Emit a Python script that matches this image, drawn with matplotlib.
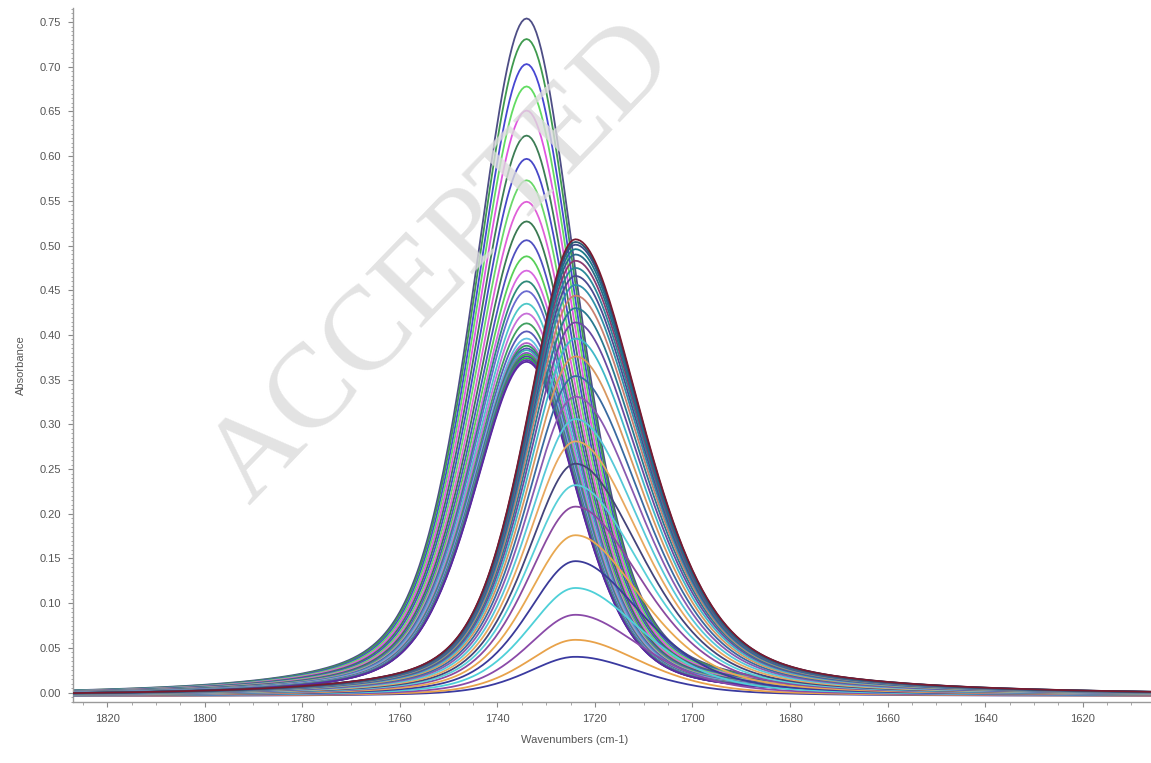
import numpy as np
import matplotlib
matplotlib.use("Agg")
import matplotlib.pyplot as plt
from matplotlib.ticker import MultipleLocator

# ---- data ----
# family A: band near 1734 cm-1 (peak heights, top to bottom)
center_a = 1734.0
heights_a = [0.758, 0.735, 0.707, 0.682, 0.655, 0.627, 0.601, 0.577, 0.553, 0.531,
             0.510, 0.492, 0.476, 0.464, 0.453, 0.439, 0.428, 0.417, 0.408, 0.400,
             0.395, 0.392, 0.389, 0.387, 0.384, 0.382, 0.380, 0.378, 0.376, 0.374]
colors_a = ["#4e4e86", "#3f9a4f", "#4747d2", "#62dc62", "#e056e0", "#3d7d55",
            "#4848c8", "#6ad86a", "#e060d8", "#3b7a52", "#5050c0", "#58d058",
            "#d868e0", "#2f8a7a", "#6a6ad0", "#4fc8c8", "#c870d8", "#40a060",
            "#5a5ab8", "#60c0e0", "#b060c8", "#2a9a5a", "#5050b0", "#40b0b0",
            "#9050c0", "#30c040", "#5a3aa8", "#28b848", "#6a30b0", "#5a2aa0"]

# family B: band near 1724 cm-1 (peak heights, bottom to top)
center_b = 1724.0
heights_b = [0.044, 0.063, 0.091, 0.121, 0.151, 0.180, 0.212, 0.236, 0.260, 0.285,
             0.310, 0.335, 0.358, 0.380, 0.400, 0.418, 0.434, 0.448, 0.460, 0.470,
             0.479, 0.487, 0.494, 0.500, 0.505, 0.508, 0.511]
colors_b = ["#3a3aa0", "#e8a24a", "#8a4aa8", "#4ed0d8", "#3a3a98", "#e8a850",
            "#8a4aa0", "#58d0d8", "#44447a", "#e8a860", "#56c8d8", "#8a5ab0",
            "#3a6aa0", "#d89860", "#40b8c8", "#6a4aa0", "#2a7a90", "#c88070",
            "#3090a8", "#4a4a90", "#2a8898", "#8a3a70", "#2a6a88", "#1a7a8a",
            "#3a4a88", "#2a5a70", "#7a1a30"]

baseline = -0.004
x_ticks = [1820, 1800, 1780, 1760, 1740, 1720, 1700, 1680, 1660, 1640, 1620]
y_ticks = [0.00, 0.05, 0.10, 0.15, 0.20, 0.25, 0.30, 0.35, 0.40, 0.45, 0.50,
           0.55, 0.60, 0.65, 0.70, 0.75]


def band(x, c, h, hw_hi, hw_lo, eta):
    # hw_hi: half width on the high-wavenumber side, hw_lo: low side
    hw = np.where(x >= c, hw_hi, hw_lo)
    u = (x - c) / hw
    g = np.exp(-np.log(2) * u ** 2)
    lo = 1.0 / (1.0 + u ** 2)
    return h * (eta * lo + (1 - eta) * g) + baseline


x = np.arange(1827.0, 1605.0, -0.5)

fig = plt.figure(figsize=(11.51, 7.63), dpi=100)
ax = fig.add_axes([0.0634, 0.080, 0.9366, 0.9095])

# watermark
fig.text(0.385, 0.655, "ACCEPTED", rotation=46, fontsize=86, color="#dcdcdc",
         family="Liberation Serif", ha="center", va="center", zorder=0, alpha=0.8)

for h, col in zip(heights_a, colors_a):
    ax.plot(x, band(x, center_a, h, 13.0, 12.5, 0.45), color=col, lw=1.3, zorder=2)
for h, col in zip(heights_b, colors_b):
    ax.plot(x, band(x, center_b, h, 12.0, 16.5, 0.5), color=col, lw=1.3, zorder=3)

ax.set_xlim(1827, 1606)
ax.set_ylim(-0.0105, 0.7657)
ax.patch.set_alpha(0)

for s in ["top", "right"]:
    ax.spines[s].set_visible(False)
for s in ["left", "bottom"]:
    ax.spines[s].set_color("#9a9a9a")
    ax.spines[s].set_linewidth(1.0)

ax.set_xticks(x_ticks)
ax.set_xticklabels([str(t) for t in x_ticks])
ax.set_yticks(y_ticks)
ax.set_yticklabels([f"{t:.2f}" for t in y_ticks])
ax.xaxis.set_minor_locator(MultipleLocator(5))
ax.yaxis.set_minor_locator(MultipleLocator(0.005))
ax.tick_params(which="major", length=3.5, width=0.8, color="#8a8a8a",
               labelsize=8, labelcolor="#555555", pad=5)
ax.tick_params(which="minor", length=1.8, width=0.6, color="#9a9a9a")
for lab in ax.get_xticklabels() + ax.get_yticklabels():
    lab.set_family("Liberation Sans")

fig.text(0.4996, 0.030, "Wavenumbers (cm-1)", ha="center", va="center",
         fontsize=8, color="#555555", family="Liberation Sans")
fig.text(0.018, 0.522, "Absorbance", ha="center", va="center", rotation=90,
         fontsize=8, color="#555555", family="Liberation Sans")

fig.savefig("out.png", dpi=100)
